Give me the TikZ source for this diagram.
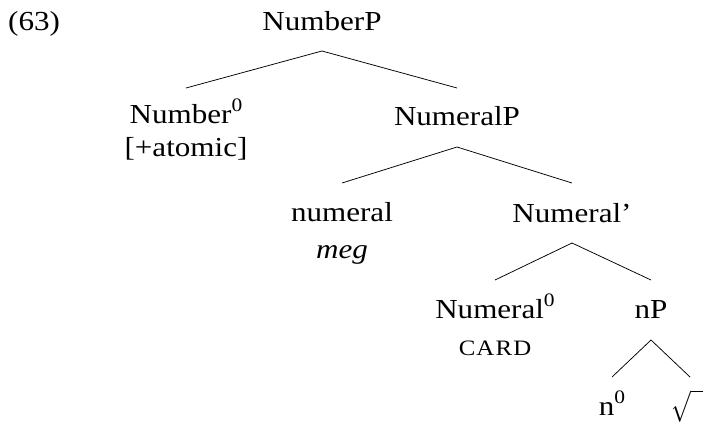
\documentclass[tikz,border=0pt]{standalone}
\usepackage{fontspec}
\setmainfont{Liberation Serif}
\newcommand{\supzero}{\raisebox{12pt}{\fontsize{19}{19}\selectfont 0}}
\newcommand{\cardsc}{{\fontsize{22}{22}\selectfont C\kern1pt A\kern1pt R\kern1pt D}}
\begin{document}
\begin{tikzpicture}[x=1pt,y=-1pt,
  basefont/.style={anchor=base, inner sep=0pt, align=center,
    font=\fontsize{27.5}{33}\selectfont},
  lbl/.style={basefont, xscale=1.13, transform shape},
  branch/.style={line width=0.75pt}]
\useasboundingbox (0,0) rectangle (703,423);
\node[lbl, anchor=base west] (ex) at (8,30) {(63)};
\node[lbl] (NumberP) at (322,30) {NumberP};
\node[lbl] (Number0) at (186,156) {Number\supzero\\{}{[+atomic]}};
\node[lbl] (NumeralP) at (457,125) {NumeralP};
\node[lbl] (numeral) at (342,258) {numeral\\[4pt] \textit{meg}};
\node[lbl] (Numeralbar) at (572,222) {Numeral’};
\node[lbl] (Numeral0) at (495,355) {Numeral\supzero\\[4pt] \cardsc};
\node[lbl] (nP) at (651,318) {nP};
\node[lbl] (n0) at (612,415) {n\supzero};
\node[basefont, anchor=base west] (root) at (671,418) {\scalebox{0.95}[1.25]{$\sqrt{\vphantom{N}\hspace{30pt}}$}};

\draw[branch] ([yshift=-21pt]NumberP.base) -- ([yshift=68pt]Number0.base);
\draw[branch] ([yshift=-21pt]NumberP.base) -- ([yshift=37pt]NumeralP.base);
\draw[branch] ([yshift=-22pt]NumeralP.base) -- ([yshift=75pt]numeral.base);
\draw[branch] ([yshift=-22pt]NumeralP.base) -- ([yshift=39pt]Numeralbar.base);
\draw[branch] ([yshift=-21pt]Numeralbar.base) -- ([yshift=75pt]Numeral0.base);
\draw[branch] ([yshift=-21pt]Numeralbar.base) -- ([yshift=38pt]nP.base);
\draw[branch] ([yshift=-22pt]nP.base) -- ([yshift=38pt]n0.base);
\draw[branch] ([yshift=-22pt]nP.base) -- ([xshift=19pt,yshift=41pt]root.base west);
\end{tikzpicture}
\end{document}
